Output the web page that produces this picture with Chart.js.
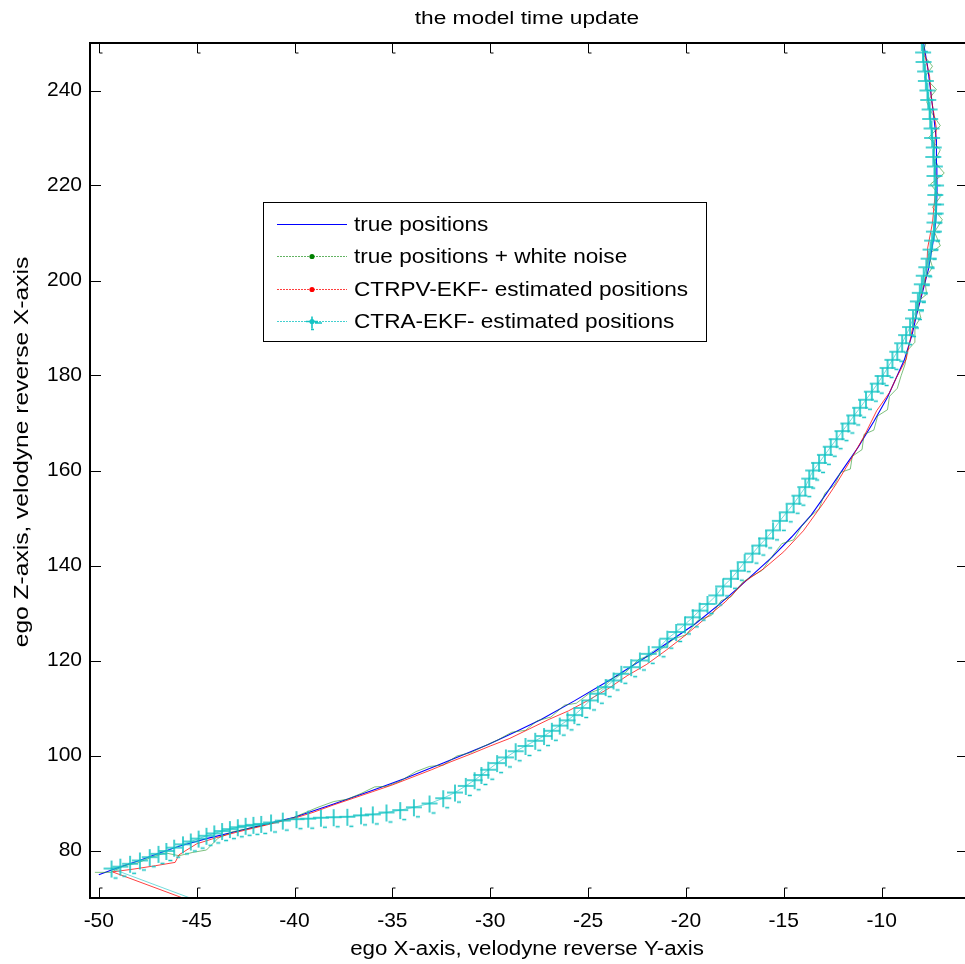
<!DOCTYPE html>
<html>
<head>
<meta charset="utf-8">
<script src="https://cdn.jsdelivr.net/npm/chart.js@4/dist/chart.umd.min.js"></script>
<style>
  html, body { margin: 0; padding: 0; background: #fff; overflow: hidden; }
  #wrap { width: 965px; height: 964px; position: relative; }
</style>
</head>
<body>
<div id="wrap"><canvas id="c" width="965" height="964"></canvas></div>
<script>
// ---- data: [ego X, ego Z] pairs ----
const truePositions = [
  [-50.0,74.9],[-49.0,76.4],[-48.0,77.8],[-47.0,79.3],[-45.9,80.9],[-44.5,82.5],[-43.0,84.0],
  [-41.5,85.5],[-40.0,87.0],[-38.0,89.8],[-36.0,92.7],[-34.4,95.1],[-32.4,98.4],[-30.1,102.3],
  [-28.7,105.0],[-27.4,107.6],[-25.7,111.5],[-23.8,116.1],[-21.65,121.75],[-19.5,127.8],
  [-18.3,131.8],[-17.3,135.4],[-15.6,141.75],[-14.6,146.0],[-13.6,150.6],[-12.8,155.3],
  [-11.9,160.7],[-11.2,164.9],[-10.4,170.3],[-9.7,175.4],[-8.85,183.2],[-8.45,188.5],
  [-8.2,193.0],[-7.85,198.5],[-7.6,202.5],[-7.3,209.9],[-7.2,214.5],[-7.17,218.9],
  [-7.18,224.5],[-7.2,229.5],[-7.35,235.0],[-7.5,240.0],[-7.65,245.0],[-7.85,249.8]
];

const noisyPositions = [
  [-50.2,75.4],[-49.4,75.4],[-48.7,76.8],[-48.0,77.4],[-47.3,78.6],[-46.6,79.5],[-45.9,78.9],
  [-45.2,79.6],[-44.5,80.1],[-43.9,82.6],[-43.2,83.9],[-42.4,84.6],[-41.7,85.2],[-40.9,86.1],
  [-40.2,86.7],[-39.5,87.9],[-38.8,89.1],[-38.0,90.3],[-37.3,90.8],[-36.6,92.0],[-35.9,93.4],
  [-35.3,93.5],[-34.6,94.6],[-33.8,96.6],[-33.1,97.7],[-32.4,98.0],[-31.7,99.9],[-31.0,100.6],
  [-30.3,102.0],[-29.6,103.3],[-28.9,104.9],[-28.2,105.3],[-27.6,107.3],[-26.9,108.1],
  [-26.2,110.6],[-25.6,111.0],[-24.9,113.2],[-24.3,114.1],[-23.7,116.4],[-23.1,117.4],
  [-22.4,120.3],[-21.8,121.0],[-21.2,122.6],[-20.6,124.6],[-20.0,125.4],[-19.4,128.4],
  [-18.7,129.5],[-18.2,132.6],[-17.7,133.4],[-17.1,136.5],[-16.6,137.8],[-16.1,139.0],
  [-15.6,141.9],[-15.1,144.6],[-14.5,145.4],[-14.1,148.2],[-13.6,150.5],[-13.2,151.9],
  [-12.9,155.2],[-12.4,157.0],[-12.1,159.6],[-11.6,160.3],[-11.5,163.0],[-11.0,164.4],
  [-10.9,167.6],[-10.4,168.5],[-10.2,171.5],[-9.7,172.8],[-9.6,175.6],[-9.2,177.3],
  [-9.0,180.0],[-8.8,182.4],[-8.7,185.2],[-8.3,187.0],[-8.3,190.3],[-8.0,192.2],[-8.2,195.4],
  [-7.7,197.1],[-7.8,200.3],[-7.4,202.8],[-7.6,205.5],[-7.0,207.3],[-7.3,210.2],[-6.9,212.8],
  [-7.4,215.4],[-7.0,217.6],[-7.5,220.3],[-6.8,222.6],[-7.3,225.0],[-7.0,227.5],[-7.6,230.1],
  [-7.0,232.6],[-7.4,235.0],[-7.7,237.6],[-7.2,240.2],[-7.8,242.8],[-7.4,245.1],[-7.9,247.7],
  [-7.7,250.5]
];

// CTRPV-EKF estimate (filter starts from the origin)
const ctrpvPositions = [
  [0,0],[-49.3,75.5],[-48.2,76.1],[-47.1,76.8],[-46.1,77.5],[-45.9,79.1],[-45.0,81.4],
  [-44.0,82.7],[-43.0,83.8],[-42.0,84.8],[-41.0,85.8],[-40.0,86.8],[-39.0,88.1],[-38.0,89.6],
  [-37.0,91.0],[-36.0,92.4],[-35.0,93.8],[-34.0,95.4],[-33.0,97.0],[-32.0,98.7],[-31.0,100.3],
  [-30.0,102.0],[-29.0,103.6],[-28.0,105.6],[-27.0,107.6],[-26.0,109.4],[-25.0,111.6],
  [-24.0,114.0],[-23.0,116.8],[-22.0,119.2],[-21.0,122.2],[-20.0,125.4],[-19.0,128.9],
  [-18.0,132.3],[-17.0,136.6],[-16.0,139.4],[-15.0,142.9],[-14.0,147.3],[-13.0,153.0],
  [-12.3,157.3],[-11.6,162.1],[-10.9,167.2],[-10.25,172.6],[-9.6,176.4],[-9.25,179.5],
  [-8.75,183.4],[-8.55,187.3],[-8.4,190.4],[-8.05,195.8],[-7.7,201.4],[-7.65,206.8],
  [-7.4,212.2],[-7.2,221.0],[-7.35,226.5],[-7.2,232.0],[-7.45,238.0],[-7.55,243.0],[-7.9,249.5]
];

// CTRA-EKF estimate (filter starts from the origin)
const ctraPositions = [
  [0,0],[-49.35,76.2],[-48.9,76.6],[-48.4,77.2],[-47.9,77.9],[-47.4,78.6],[-46.95,79.3],
  [-46.55,79.9],[-46.15,80.6],[-45.7,81.3],[-45.3,81.9],[-44.9,82.5],[-44.5,83.1],[-44.1,83.6],
  [-43.7,84.1],[-43.3,84.5],[-42.9,84.9],[-42.5,85.2],[-42.1,85.4],[-41.7,85.6],[-41.2,85.9],
  [-40.6,86.3],[-39.9,86.6],[-39.3,86.7],[-38.65,86.9],[-38.0,87.0],[-37.3,87.1],[-36.6,87.4],
  [-36.0,87.6],[-35.3,88.0],[-34.6,88.5],[-33.9,89.1],[-33.1,89.9],[-32.4,91.0],[-31.8,92.2],
  [-31.25,93.6],[-30.8,94.8],[-30.45,95.9],[-30.1,97.0],[-29.65,98.4],[-29.2,99.6],
  [-28.7,100.9],[-28.2,102.0],[-27.7,103.1],[-27.25,104.1],[-26.85,105.2],[-26.45,106.3],
  [-26.05,107.4],[-25.7,108.5],[-25.3,110.0],[-24.9,111.6],[-24.5,113.0],[-24.1,114.4],
  [-23.7,115.8],[-23.3,117.2],[-22.8,118.6],[-22.35,120.0],[-21.9,121.4],[-21.35,122.8],
  [-20.95,124.6],[-20.5,126.0],[-20.05,127.6],[-19.65,129.1],[-19.3,130.5],[-18.9,131.9],
  [-18.45,133.7],[-18.1,135.6],[-17.7,137.2],[-17.35,138.9],[-17.0,140.7],[-16.6,142.5],
  [-16.25,144.2],[-15.9,145.7],[-15.55,147.4],[-15.2,149.4],[-14.85,151.2],[-14.5,153.0],
  [-14.2,154.7],[-13.9,156.5],[-13.7,158.3],[-13.5,160.0],[-13.2,161.6],[-12.9,163.3],
  [-12.6,165.0],[-12.3,166.6],[-12.0,168.3],[-11.7,169.9],[-11.4,171.6],[-11.1,173.2],
  [-10.8,174.9],[-10.5,176.6],[-10.2,178.3],[-9.95,179.9],[-9.7,181.6],[-9.45,183.3],
  [-9.2,185.0],[-8.95,186.8],[-8.75,188.5],[-8.55,190.2],[-8.4,192.0],[-8.25,193.8],
  [-8.15,195.6],[-8.05,197.4],[-7.95,199.2],[-7.85,201.0],[-7.72,202.8],[-7.6,204.6],
  [-7.5,206.5],[-7.42,208.4],[-7.33,210.3],[-7.3,212.2],[-7.24,214.1],[-7.22,216.0],
  [-7.26,218.0],[-7.22,220.0],[-7.3,222.0],[-7.28,224.0],[-7.36,226.0],[-7.34,228.0],
  [-7.42,230.0],[-7.45,232.0],[-7.52,234.0],[-7.55,236.0],[-7.62,238.0],[-7.66,240.0],
  [-7.74,242.0],[-7.78,244.0],[-7.86,246.0],[-7.88,248.0],[-7.95,250.2]
];

const xTicks = [-50, -45, -40, -35, -30, -25, -20, -15, -10];
const yTicks = [80, 100, 120, 140, 160, 180, 200, 220, 240];

const seriesNames = [
  'true positions',
  'true positions + white noise',
  'CTRPV-EKF- estimated positions',
  'CTRA-EKF- estimated positions'
];
const chartTitle = 'the model time update';
const xTitle = 'ego X-axis, velodyne reverse Y-axis';
const yTitle = 'ego Z-axis, velodyne reverse X-axis';

// ---- styling ----
const FONT = "'Liberation Sans', Arial, Helvetica, sans-serif";
const CYAN = 'rgb(20,196,196)';

function plusMarker(color) {
  const c = document.createElement('canvas');
  c.width = 24; c.height = 24;
  const g = c.getContext('2d');
  g.strokeStyle = color;
  g.lineWidth = 1.6;
  g.beginPath();
  g.moveTo(4, 12); g.lineTo(20, 12);
  g.moveTo(12, 4); g.lineTo(12, 21);
  g.moveTo(14, 21.5); g.lineTo(18, 21.5);
  g.stroke();
  return c;
}
const cyanMarker = plusMarker(CYAN);

const toXY = arr => arr.map(p => ({ x: p[0], y: p[1] }));

function drawStretched(ctx, text, x, y, size, sx, align, rot) {
  ctx.save();
  ctx.translate(x, y);
  if (rot) ctx.rotate(rot);
  ctx.scale(sx, 1);
  ctx.font = size + 'px ' + FONT;
  ctx.textAlign = align;
  ctx.textBaseline = 'middle';
  ctx.fillStyle = '#000';
  ctx.fillText(text, 0, 0);
  ctx.restore();
}

// frame, inside ticks, title, axis titles and the boxed legend
const decorations = {
  id: 'decorations',
  afterDatasetsDraw(chart) {
    const { ctx, scales: { x, y } } = chart;
    const L = 90, T = 43, B = 898, R = 965;
    ctx.save();
    ctx.strokeStyle = '#000';
    ctx.lineWidth = 1;
    ctx.beginPath();
    xTicks.forEach(v => {
      const px = Math.round(x.getPixelForValue(v)) + 0.5;
      ctx.moveTo(px, B); ctx.lineTo(px, B - 10); ctx.lineTo(px + 3, B - 10);
      ctx.moveTo(px, T); ctx.lineTo(px, T + 10); ctx.lineTo(px + 3, T + 10);
    });
    yTicks.forEach(v => {
      const py = Math.round(y.getPixelForValue(v)) + 0.5;
      ctx.moveTo(L, py); ctx.lineTo(L + 11, py);
      ctx.moveTo(R, py); ctx.lineTo(R - 8, py);
    });
    ctx.stroke();
    ctx.lineWidth = 2;
    ctx.beginPath();
    ctx.moveTo(L, B); ctx.lineTo(L, T); ctx.lineTo(R, T);
    ctx.moveTo(L - 1, B); ctx.lineTo(R, B);
    ctx.stroke();
    ctx.restore();
  },
  afterDraw(chart) {
    const ctx = chart.ctx;
    drawStretched(ctx, chartTitle, 527, 19, 18, 1.26, 'center', 0);
    drawStretched(ctx, xTitle, 527, 949, 20, 1.115, 'center', 0);
    drawStretched(ctx, yTitle, 22, 452, 21, 1.17, 'center', -Math.PI / 2);

    // legend box
    const bx = 263.5, by = 202.5, bw = 443, bh = 139;
    ctx.save();
    ctx.fillStyle = '#fff';
    ctx.fillRect(bx, by, bw, bh);
    ctx.strokeStyle = '#000';
    ctx.lineWidth = 1;
    ctx.strokeRect(bx, by, bw, bh);
    const rows = [224, 256, 289, 321];
    const x0 = 277, x1 = 347, xm = 312;
    const styles = [
      { line: '#0000ff', dash: [], dot: null },
      { line: 'rgba(60,160,60,0.8)', dash: [2, 1], dot: '#008000' },
      { line: 'rgba(255,40,40,0.9)', dash: [2, 1], dot: '#ff0000' },
      { line: 'rgba(20,196,196,0.8)', dash: [2, 1], dot: CYAN }
    ];
    styles.forEach((s, i) => {
      const yy = rows[i] + 0.5;
      ctx.strokeStyle = s.line;
      ctx.lineWidth = 1;
      ctx.setLineDash(s.dash);
      ctx.beginPath(); ctx.moveTo(x0, yy); ctx.lineTo(x1, yy); ctx.stroke();
      ctx.setLineDash([]);
      if (s.dot) {
        ctx.fillStyle = s.dot;
        ctx.beginPath(); ctx.arc(xm, yy, 2.6, 0, Math.PI * 2); ctx.fill();
      }
      if (i === 3) {
        ctx.strokeStyle = CYAN; ctx.lineWidth = 1.6;
        ctx.beginPath();
        ctx.moveTo(xm, yy - 5); ctx.lineTo(xm, yy + 7);
        ctx.moveTo(xm - 6, yy); ctx.lineTo(xm + 6, yy);
        ctx.moveTo(xm + 3, yy + 1.5); ctx.lineTo(xm + 10, yy + 1.5);
        ctx.moveTo(xm - 1, yy + 8); ctx.lineTo(xm + 2, yy + 8);
        ctx.stroke();
      }
      drawStretched(ctx, seriesNames[i], 354, rows[i] + 1, 20, 1.13, 'left', 0);
    });
    ctx.restore();
  }
};

new Chart(document.getElementById('c').getContext('2d'), {
  type: 'scatter',
  data: {
    datasets: [
      {
        label: seriesNames[3], data: toXY(ctraPositions), showLine: true,
        borderColor: 'rgba(20,196,196,0.6)', borderWidth: 1, tension: 0,
        pointStyle: cyanMarker, pointRadius: 8, order: 1
      },
      {
        label: seriesNames[2], data: toXY(ctrpvPositions), showLine: true,
        borderColor: 'rgba(255,0,0,0.75)', borderWidth: 1, tension: 0,
        pointRadius: 0, order: 2
      },
      {
        label: seriesNames[1], data: toXY(noisyPositions), showLine: true,
        borderColor: 'rgba(40,150,40,0.6)', borderWidth: 1, tension: 0,
        pointRadius: 0, order: 3
      },
      {
        label: seriesNames[0], data: toXY(truePositions), showLine: true,
        borderColor: '#0000ff', borderWidth: 1.1, tension: 0,
        pointRadius: 0, order: 4
      }
    ]
  },
  options: {
    responsive: false,
    animation: false,
    devicePixelRatio: 1,
    layout: { padding: { top: 43, right: 0, bottom: 0, left: 0 } },
    plugins: {
      legend: { display: false },
      title: { display: false },
      tooltip: { enabled: false }
    },
    scales: {
      x: {
        type: 'linear', min: -50.45, max: -6.2,
        grid: { display: false, drawTicks: false },
        border: { display: false },
        afterBuildTicks: s => { s.ticks = xTicks.map(v => ({ value: v })); },
        afterFit: s => { s.height = 66; },
        ticks: {
          autoSkip: false, maxRotation: 0, padding: 11, color: '#000',
          font: { family: FONT, size: 21 }
        }
      },
      y: {
        type: 'linear', min: 70, max: 250,
        grid: { display: false, drawTicks: false },
        border: { display: false },
        afterBuildTicks: s => { s.ticks = yTicks.map(v => ({ value: v })); },
        afterFit: s => { s.width = 90; },
        ticks: {
          autoSkip: false, padding: 8, color: '#000',
          font: { family: FONT, size: 21 }
        }
      }
    }
  },
  plugins: [decorations]
});
</script>
</body>
</html>
